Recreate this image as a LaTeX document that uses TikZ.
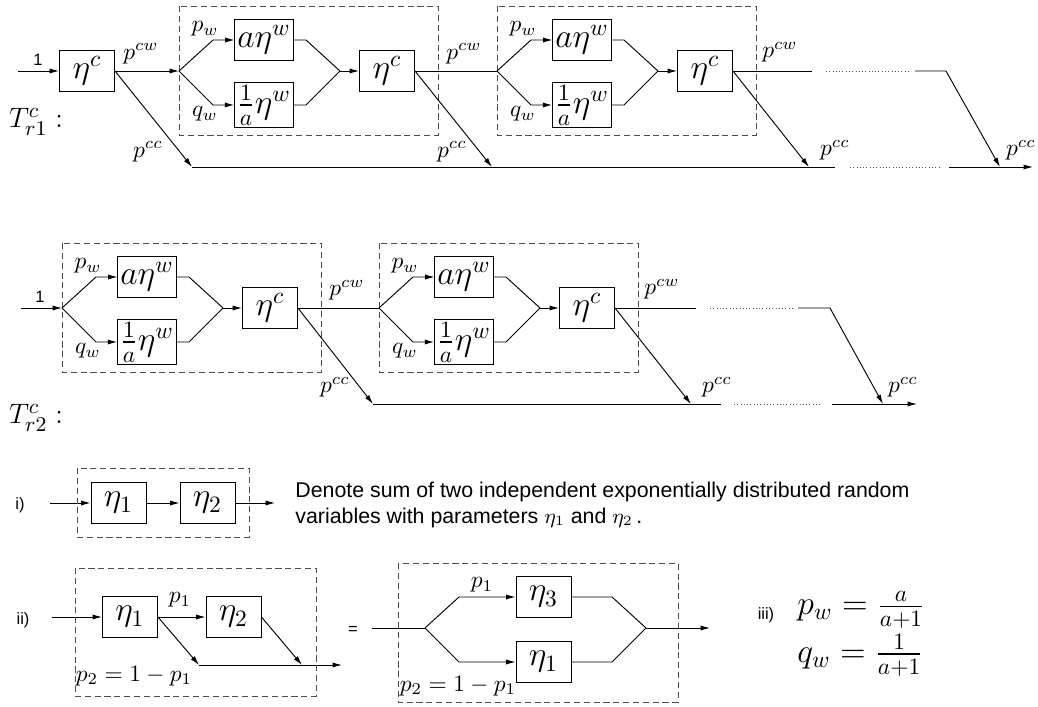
\documentclass[tikz,border=0pt]{standalone}
\usepackage{amsmath,amssymb}
\usepackage{fontspec}
\newfontfamily\helv{Liberation Sans}
\usetikzlibrary{arrows.meta}

\begin{document}
\begin{tikzpicture}[x=0.015cm, y=-0.015cm, >={Latex[length=4pt,width=2.2pt]},
  blk/.style={draw, rectangle, minimum width=0.825cm, minimum height=0.615cm,
    inner sep=1pt, font=\Large},
  lbl/.style={inner sep=0pt},
  sf/.style={inner sep=0pt, font={\helv\fontsize{7}{8}\selectfont}},
  txt/.style={inner sep=0pt, anchor=west, align=left,
    font={\helv\fontsize{9.1}{10.9}\selectfont}},
  grp/.style={draw=black!70, dash pattern=on 2.6pt off 1.6pt},
  brk/.style={draw=black!70, densely dotted}]
  \useasboundingbox (0,0) rectangle (1038,707);

  % the four dashed stages: split, a eta^w / 1/a eta^w, merge, eta^c
  \foreach \g/\x/\y in {a/179/71, b/497/71, c/62/308, d/379/308} {
    \coordinate (\g-in) at (\x,\y);
    \coordinate (\g-u) at (\x+34,\y-31);
    \coordinate (\g-l) at (\x+34,\y+34);
    \node[blk] (\g-up) at (\x+85,\y-31) {$a\eta^w$};
    \node[blk] (\g-lo) at (\x+85,\y+34) {$\frac{1}{a}\eta^w$};
    \coordinate (\g-ur) at (\x+127,\y-31);
    \coordinate (\g-lr) at (\x+127,\y+34);
    \coordinate (\g-m) at (\x+161,\y);
    \node[blk] (\g-c) at (\x+208,\y) {$\eta^c$};
    \draw[grp] (\x,\y-65) rectangle (\x+259,\y+64);
    \draw[->] (\g-in)--(\g-u)--(\g-up);
    \draw[->] (\g-in)--(\g-l)--(\g-lo);
    \draw (\g-up)--(\g-ur)--(\g-m);
    \draw (\g-lo)--(\g-lr)--(\g-m);
    \draw[->] (\g-m)--(\g-c);
    \node[lbl] at (\x+26,\y-42) {$p_w$};
    \node[lbl] at (\x+26,\y+43) {$q_w$};
  }

  % T_r1
  \node[lbl, font={\fontsize{13}{15}\selectfont}] at (36,122) {$T^c_{r1}:$};
  \coordinate (in1) at (18,71);
  \node[blk] (c1) at (87,71) {$\eta^c$};
  \node[sf] at (38,60) {1};
  \draw[->] (in1)--(c1);
  \draw[->] (c1)--(a-in);
  \draw (a-c)--(b-in);
  \coordinate (s1) at (192,167); \coordinate (s2) at (492,167);
  \coordinate (s3) at (809,167); \coordinate (s4) at (1000,167);
  \coordinate (e1) at (835,167); \coordinate (d1) at (850,167);
  \coordinate (d2) at (939,167); \coordinate (e2) at (949,167);
  \coordinate (o1) at (1033,167);
  \coordinate (t1) at (812,71); \coordinate (t2) at (826,71);
  \coordinate (t3) at (911,71); \coordinate (t4) at (915,71);
  \coordinate (t5) at (946,71);
  \draw[->] (c1.east)--(s1);
  \draw[->] (a-c.east)--(s2);
  \draw[->] (b-c.east)--(s3);
  \draw (s1)--(e1); \draw[brk] (d1)--(d2); \draw[->] (e2)--(o1);
  \draw (b-c)--(t1); \draw[brk] (t2)--(t3); \draw[->] (t4)--(t5)--(s4);
  \node[lbl] at (141,54) {$p^{cw}$};
  \node[lbl] at (464,54) {$p^{cw}$};
  \node[lbl] at (780,52) {$p^{cw}$};
  \node[lbl] at (148,152) {$p^{cc}$};
  \node[lbl] at (452,152) {$p^{cc}$};
  \node[lbl] at (835,150) {$p^{cc}$};
  \node[lbl] at (1021,150) {$p^{cc}$};

  % T_r2
  \node[lbl, font={\fontsize{13}{15}\selectfont}] at (36,418) {$T^c_{r2}:$};
  \coordinate (in2) at (21,308);
  \node[sf] at (40,297) {1};
  \draw[->] (in2)--(c-in);
  \draw (c-c)--(d-in);
  \coordinate (r1) at (373,404); \coordinate (r2) at (691,404);
  \coordinate (r3) at (883,404); \coordinate (f1) at (721,404);
  \coordinate (g1) at (734,404); \coordinate (g2) at (822,404);
  \coordinate (f2) at (832,404); \coordinate (o2) at (917,404);
  \coordinate (u1) at (696,308); \coordinate (u2) at (710,308);
  \coordinate (u3) at (794,308); \coordinate (u4) at (798,308);
  \coordinate (u5) at (830,308);
  \draw[->] (c-c.east)--(r1);
  \draw[->] (d-c.east)--(r2);
  \draw (r1)--(f1); \draw[brk] (g1)--(g2); \draw[->] (f2)--(o2);
  \draw (d-c)--(u1); \draw[brk] (u2)--(u3); \draw[->] (u4)--(u5)--(r3);
  \node[lbl] at (347,290) {$p^{cw}$};
  \node[lbl] at (662,289) {$p^{cw}$};
  \node[lbl] at (335,387) {$p^{cc}$};
  \node[lbl] at (717,387) {$p^{cc}$};
  \node[lbl] at (903,387) {$p^{cc}$};

  % i)
  \node[sf] at (20,505) {i)};
  \coordinate (i-in) at (50,503);
  \node[blk] (i-1) at (118.5,503) {$\eta_1$};
  \node[blk] (i-2) at (207.5,503) {$\eta_2$};
  \coordinate (i-out) at (275,503);
  \draw[->] (i-in)--(i-1);
  \draw[->] (i-1)--(i-2);
  \draw[->] (i-2)--(i-out);
  \draw[grp] (77,468) rectangle (249,537);
  \node[txt] at (295,505) {Denote sum of two independent exponentially distributed random\\
    variables with parameters $\eta_1$ and $\eta_2$\,.};

  % ii)
  \node[sf] at (23,620) {ii)};
  \coordinate (ii-in) at (52,617);
  \node[blk] (ii-1) at (130,617) {$\eta_1$};
  \node[blk] (ii-2) at (233.5,617) {$\eta_2$};
  \coordinate (ii-a) at (199,665);
  \coordinate (ii-b) at (302,665);
  \coordinate (ii-out) at (342,665);
  \draw[->] (ii-in)--(ii-1);
  \draw[->] (ii-1)--(ii-2);
  \draw[->] (ii-1.east)--(ii-a);
  \draw[->] (ii-2.east)--(ii-b);
  \draw[->] (ii-a)--(ii-out);
  \draw[grp] (75,568) rectangle (316,696);
  \node[lbl] at (180,600) {$p_1$};
  \node[lbl] at (134,676) {$p_2=1-p_1$};

  \node[sf] at (353,630) {=};
  \coordinate (e-in) at (372,628);
  \coordinate (e-s) at (425,628);
  \coordinate (e-u) at (459,597);
  \coordinate (e-l) at (459,662);
  \node[blk] (e-3) at (543.5,597) {$\eta_3$};
  \node[blk] (e-1) at (543.5,662) {$\eta_1$};
  \coordinate (e-ur) at (612,597);
  \coordinate (e-lr) at (612,662);
  \coordinate (e-m) at (646,628);
  \coordinate (e-out) at (710,628);
  \draw (e-in)--(e-s);
  \draw[->] (e-s)--(e-u)--(e-3);
  \draw[->] (e-s)--(e-l)--(e-1);
  \draw (e-3)--(e-ur)--(e-m);
  \draw (e-1)--(e-lr)--(e-m);
  \draw[->] (e-m)--(e-out);
  \draw[grp] (398,563) rectangle (678,702);
  \node[lbl] at (482,585) {$p_1$};
  \node[lbl] at (458,686) {$p_2=1-p_1$};

  % iii)
  \node[sf] at (766,615) {iii)};
  \node[lbl, anchor=west, font=\Large] at (797,610) {$p_w=\frac{a}{a+1}$};
  \node[lbl, anchor=west, font=\Large] at (797,655) {$q_w=\frac{1}{a+1}$};
\end{tikzpicture}
\end{document}
